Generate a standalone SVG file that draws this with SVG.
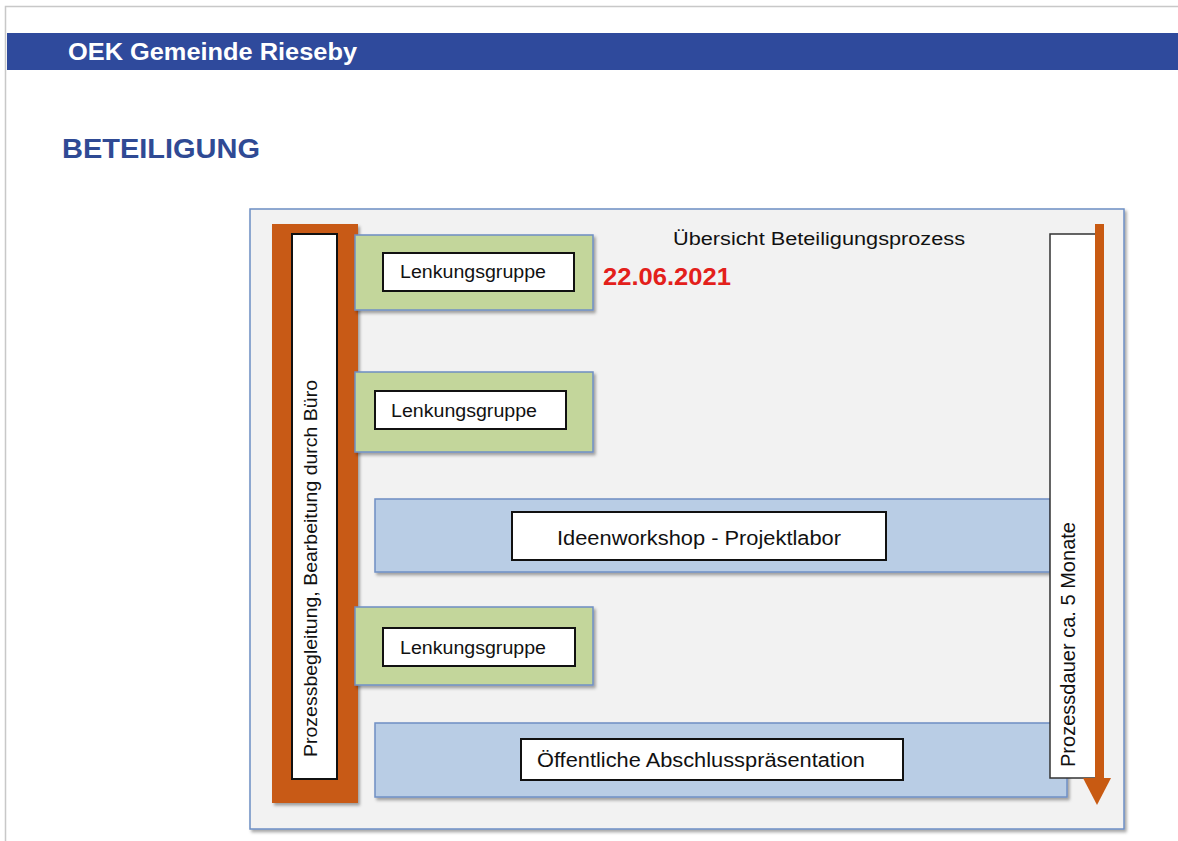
<svg xmlns="http://www.w3.org/2000/svg" width="1178" height="841" viewBox="0 0 1178 841">
<defs>
<filter id="sh" x="-5%" y="-5%" width="115%" height="115%">
<feDropShadow dx="2" dy="2.5" stdDeviation="1.5" flood-color="#000" flood-opacity="0.35"/>
</filter>
</defs>
<style>
.t{font-family:"Liberation Sans",Arial,sans-serif;fill:#111}
.green{fill:#c3d69b;stroke:#6f8fc4;stroke-width:1.5}
.blue{fill:#b9cde5;stroke:#6f8fc4;stroke-width:1.5}
.inner{fill:#fff;stroke:#111;stroke-width:2}
.orange{fill:#c85a12}
</style>
<rect width="1178" height="841" fill="#fff"/>
<path d="M5.5 841V6.5H1178" fill="none" stroke="#c8c8c8" stroke-width="1.5"/>
<g id="header">
<rect x="7" y="33" width="1171" height="37" fill="#2f4a9c"/>
<text class="t" x="68" y="60" font-size="23.5" font-weight="bold" style="fill:#fff" textLength="289" lengthAdjust="spacingAndGlyphs">OEK Gemeinde Rieseby</text>
</g>
<g id="title">
<text class="t" x="62" y="158" font-size="28" font-weight="bold" style="fill:#2f4a94" textLength="198" lengthAdjust="spacingAndGlyphs">BETEILIGUNG</text>
</g>
<g id="panel">
<rect x="250" y="209" width="874" height="620" fill="#f2f2f2" stroke="#6c8ec4" stroke-width="1.5" filter="url(#sh)"/>
<text class="t" x="673" y="245" font-size="18" textLength="292" lengthAdjust="spacingAndGlyphs">Übersicht Beteiligungsprozess</text>
</g>
<g id="prozessbegleitung">
<rect class="orange" x="272" y="224" width="86" height="579" filter="url(#sh)"/>
<rect class="inner" x="292" y="234" width="45" height="545"/>
<text class="t" transform="translate(317 757) rotate(-90)" font-size="19" textLength="377" lengthAdjust="spacingAndGlyphs">Prozessbegleitung, Bearbeitung durch Büro</text>
</g>
<g id="lenkungsgruppe1">
<rect class="green" x="355" y="235" width="238" height="75" filter="url(#sh)"/>
<rect class="inner" x="383" y="253" width="191" height="38"/>
<text class="t" x="400" y="278" font-size="18" textLength="146" lengthAdjust="spacingAndGlyphs">Lenkungsgruppe</text>
</g>
<g id="datum">
<text class="t" x="603" y="285" font-size="23.5" font-weight="bold" style="fill:#e3201b" textLength="128" lengthAdjust="spacingAndGlyphs">22.06.2021</text>
</g>
<g id="lenkungsgruppe2">
<rect class="green" x="355" y="372" width="238" height="80" filter="url(#sh)"/>
<rect class="inner" x="375" y="391" width="191" height="38"/>
<text class="t" x="391" y="417" font-size="18" textLength="146" lengthAdjust="spacingAndGlyphs">Lenkungsgruppe</text>
</g>
<g id="ideenworkshop">
<rect class="blue" x="375" y="499" width="675" height="73" filter="url(#sh)"/>
<rect class="inner" x="512" y="512" width="374" height="48"/>
<text class="t" x="557" y="545" font-size="20" textLength="284" lengthAdjust="spacingAndGlyphs">Ideenworkshop - Projektlabor</text>
</g>
<g id="lenkungsgruppe3">
<rect class="green" x="355" y="607" width="238" height="78" filter="url(#sh)"/>
<rect class="inner" x="383" y="628" width="192" height="38"/>
<text class="t" x="400" y="654" font-size="18" textLength="146" lengthAdjust="spacingAndGlyphs">Lenkungsgruppe</text>
</g>
<g id="abschluss">
<rect class="blue" x="375" y="723" width="692" height="74" filter="url(#sh)"/>
<rect class="inner" x="521" y="739" width="382" height="41"/>
<text class="t" x="537" y="767" font-size="20" textLength="328" lengthAdjust="spacingAndGlyphs">Öffentliche Abschlusspräsentation</text>
</g>
<g id="prozessdauer">
<rect x="1050" y="234" width="46" height="544" fill="#fff" stroke="#333" stroke-width="1.5"/>
<text class="t" transform="translate(1075 767) rotate(-90)" font-size="19.5" textLength="245" lengthAdjust="spacingAndGlyphs">Prozessdauer ca. 5 Monate</text>
</g>
<g id="connectors">
<rect class="orange" x="1095" y="224" width="9" height="556"/>
<polygon class="orange" points="1083,778 1111,778 1097,805"/>
</g>
</svg>
